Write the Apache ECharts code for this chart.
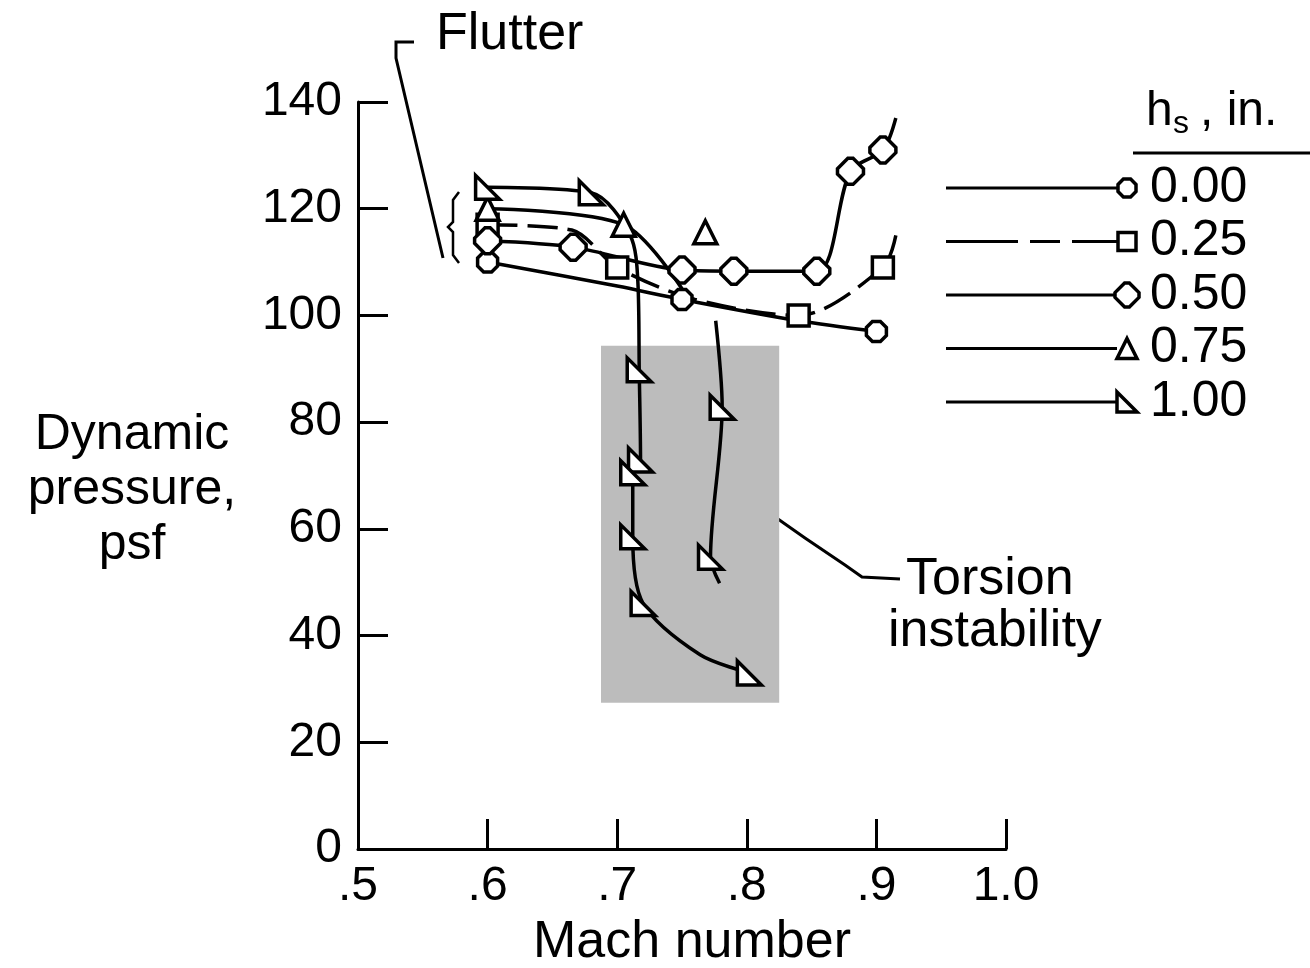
<!DOCTYPE html>
<html lang="en">
  <head>
    <meta charset="UTF-8" />
    <title>Flutter - dynamic pressure vs Mach number</title>
    <script src="https://cdn.jsdelivr.net/npm/echarts@6/dist/echarts.min.js"></script>
    <style>
      html, body { margin: 0; padding: 0; background: #fff; }
    </style>
  </head>
  <body>
    <div id="chart" style="width: 1310px; height: 968px"></div>
    <script>
      // axis ticks
      const machTicks = [0.5, 0.6, 0.7, 0.8, 0.9, 1.0];
      const qTicks = [0, 20, 40, 60, 80, 100, 120, 140];

      // hs = 0.00 in.
      const mach000 = [0.6, 0.7, 0.75, 0.84, 0.9];
      const q000 = [110, 105.5, 103, 99, 97];
      const mark000 = [1, 0, 1, 0, 1];

      // hs = 0.25 in. (dashed)
      const mach025 = [0.6, 0.665, 0.7, 0.76, 0.84, 0.905, 0.915];
      const q025 = [117, 116, 109, 103, 100, 109, 115];
      const mark025 = [1, 0, 1, 0, 1, 1, 0];

      // hs = 0.50 in.
      const mach050 = [0.6, 0.666, 0.75, 0.79, 0.854, 0.88, 0.905, 0.915];
      const q050 = [114, 112.8, 108.5, 108.3, 108.3, 127, 131, 137];
      const mark050 = [1, 1, 1, 1, 1, 1, 1, 0];

      // hs = 0.75 in.
      const mach075 = [0.6, 0.705, 0.75];
      const q075 = [120, 117, 105];
      const mark075 = [1, 1, 0];
      const mach075b = [0.768];
      const q075b = [115.6];

      // hs = 1.00 in. (upper branch dropping into torsion region)
      const mach100 = [0.6, 0.68, 0.71, 0.716, 0.717, 0.718, 0.712, 0.712, 0.72, 0.764, 0.802];
      const q100 = [124, 123, 115, 106, 89.8, 72.9, 70.5, 58.5, 46, 36.4, 33];
      const mark100 = [1, 1, 0, 0, 1, 1, 1, 1, 1, 0, 1];
      // hs = 1.00 in. (second drop)
      const mach100b = [0.776, 0.781, 0.772, 0.779];
      const q100b = [99, 82.8, 54.7, 49.8];
      const mark100b = [0, 1, 1, 0];

      // torsion instability region [mach, q]
      const torsionLo = [0.6875, 27.4];
      const torsionHi = [0.825, 94.3];

      const FONT = "Liberation Sans";
      const SHAPES = {
        oct: [[3, 0], [7, 0], [10, 3], [10, 7], [7, 10], [3, 10], [0, 7], [0, 3]],
        sq: [[0, 0], [10, 0], [10, 10], [0, 10]],
        dia: [[4, 0], [6, 0], [10, 4], [10, 6], [6, 10], [4, 10], [0, 6], [0, 4]],
        tri: [[5, 0], [10, 10], [0, 10]],
        rtri: [[0, 0], [0, 10], [10, 10]],
      };
      const toPath = (pts) => "path://M" + pts.map((p) => p.join(",")).join("L") + "Z";

      const makeData = (xs, ys, marks) =>
        xs.map((x, i) =>
          marks && !marks[i] ? { value: [x, ys[i]], symbol: "none" } : [x, ys[i]]
        );

      const lineSeries = (name, xs, ys, marks, shape, size, dashed) => ({
        name: name,
        type: "line",
        data: makeData(xs, ys, marks),
        smooth: 0.3,
        symbol: toPath(SHAPES[shape]),
        symbolSize: size,
        showAllSymbol: true,
        z: 3,
        lineStyle: { color: "#000", width: 3.5, type: dashed ? [30, 10] : "solid" },
        itemStyle: { color: "#fff", borderColor: "#000", borderWidth: 3.5 },
      });

      const chart = echarts.init(document.getElementById("chart"), null, { renderer: "canvas" });

      // legend drawn by hand: long line, then marker, then value
      const legendRows = [
        { label: "0.00", shape: "oct", size: 18, dashed: false },
        { label: "0.25", shape: "sq", size: 18, dashed: true },
        { label: "0.50", shape: "dia", size: 24, dashed: false },
        { label: "0.75", shape: "tri", size: 20, dashed: false },
        { label: "1.00", shape: "rtri", size: 20, dashed: false },
      ];
      const legendGraphics = [];
      legendRows.forEach((r, i) => {
        const y = 188 + i * 53.5;
        const cx = 1127;
        legendGraphics.push({
          type: "line",
          shape: { x1: 946, y1: y, x2: cx - r.size / 2, y2: y },
          style: { stroke: "#000", lineWidth: 3, lineDash: r.dashed ? [72, 12, 30, 12] : null },
        });
        legendGraphics.push({
          type: "polygon",
          shape: {
            points: SHAPES[r.shape].map((p) => [cx - r.size / 2 + (p[0] * r.size) / 10, y - r.size / 2 + (p[1] * r.size) / 10]),
          },
          style: { fill: "#fff", stroke: "#000", lineWidth: 3.5 },
        });
        legendGraphics.push({
          type: "text",
          x: 1150,
          y: y,
          style: { text: r.label, font: "50px " + FONT, fill: "#000", textVerticalAlign: "middle" },
        });
      });

      const option = {
        animation: false,
        backgroundColor: "#fff",
        grid: { left: 358, top: 102, width: 648, height: 747, containLabel: false },
        xAxis: {
          type: "value",
          min: machTicks[0],
          max: machTicks[machTicks.length - 1],
          interval: 0.1,
          axisLine: { lineStyle: { color: "#000", width: 3 } },
          axisTick: { inside: true, length: 30, lineStyle: { color: "#000", width: 3 } },
          splitLine: { show: false },
          axisLabel: {
            margin: 14,
            color: "#000",
            fontFamily: FONT,
            fontSize: 48,
            formatter: (v) => (v >= 0.999 ? "1.0" : "." + Math.round(v * 10)),
          },
        },
        yAxis: {
          type: "value",
          min: qTicks[0],
          max: qTicks[qTicks.length - 1],
          interval: 20,
          axisLine: { lineStyle: { color: "#000", width: 3 } },
          axisTick: { inside: true, length: 30, lineStyle: { color: "#000", width: 3 } },
          splitLine: { show: false },
          axisLabel: { margin: 16, color: "#000", fontFamily: FONT, fontSize: 48 },
        },
        series: [
          {
            name: "torsion",
            type: "line",
            data: [],
            z: 1,
            markArea: {
              silent: true,
              itemStyle: { color: "#bcbcbc" },
              data: [[{ coord: torsionLo }, { coord: torsionHi }]],
            },
          },
          lineSeries("0.00", mach000, q000, mark000, "oct", 20, false),
          lineSeries("0.25", mach025, q025, mark025, "sq", 21, true),
          lineSeries("0.50", mach050, q050, mark050, "dia", 26, false),
          lineSeries("0.75", mach075, q075, mark075, "tri", 23, false),
          lineSeries("0.75", mach075b, q075b, null, "tri", 23, false),
          lineSeries("1.00", mach100, q100, mark100, "rtri", 24, false),
          lineSeries("1.00", mach100b, q100b, mark100b, "rtri", 24, false),
        ],
        graphic: [
          // axis titles
          {
            type: "text",
            x: 132,
            y: 490,
            style: {
              text: "Dynamic\npressure,\npsf",
              font: "50px " + FONT,
              fill: "#000",
              textAlign: "center",
              textVerticalAlign: "middle",
              lineHeight: 55,
            },
          },
          {
            type: "text",
            x: 692,
            y: 943,
            style: { text: "Mach number", font: "52px " + FONT, fill: "#000", textAlign: "center", textVerticalAlign: "middle" },
          },
          // flutter note
          {
            type: "polyline",
            shape: { points: [[414, 42], [396, 42], [396, 58], [443, 258]] },
            style: { stroke: "#000", lineWidth: 3, fill: null },
          },
          {
            type: "polyline",
            shape: { points: [[459, 192], [453, 200], [453, 222], [448, 227], [453, 232], [453, 255], [459, 263]] },
            style: { stroke: "#000", lineWidth: 2.5, fill: null },
          },
          {
            type: "text",
            x: 436,
            y: 35,
            style: { text: "Flutter", font: "52px " + FONT, fill: "#000", textVerticalAlign: "middle" },
          },
          // torsion note
          {
            type: "polyline",
            shape: { points: [[768, 512], [805, 538], [845, 565], [862, 577], [900, 579]] },
            style: { stroke: "#000", lineWidth: 3, fill: null },
          },
          {
            type: "text",
            x: 906,
            y: 580,
            style: { text: "Torsion", font: "52px " + FONT, fill: "#000", textVerticalAlign: "middle" },
          },
          {
            type: "text",
            x: 888,
            y: 632,
            style: { text: "instability", font: "52px " + FONT, fill: "#000", textVerticalAlign: "middle" },
          },
          // legend title h_s , in.
          { type: "text", x: 1146, y: 112, style: { text: "h", font: "48px " + FONT, fill: "#000", textVerticalAlign: "middle" } },
          { type: "text", x: 1173, y: 124, style: { text: "s", font: "32px " + FONT, fill: "#000", textVerticalAlign: "middle" } },
          { type: "text", x: 1200, y: 112, style: { text: ", in.", font: "48px " + FONT, fill: "#000", textVerticalAlign: "middle" } },
          {
            type: "line",
            shape: { x1: 1133, y1: 153, x2: 1310, y2: 153 },
            style: { stroke: "#000", lineWidth: 3 },
          },
        ].concat(legendGraphics),
      };

      chart.setOption(option);
    </script>
  </body>
</html>
